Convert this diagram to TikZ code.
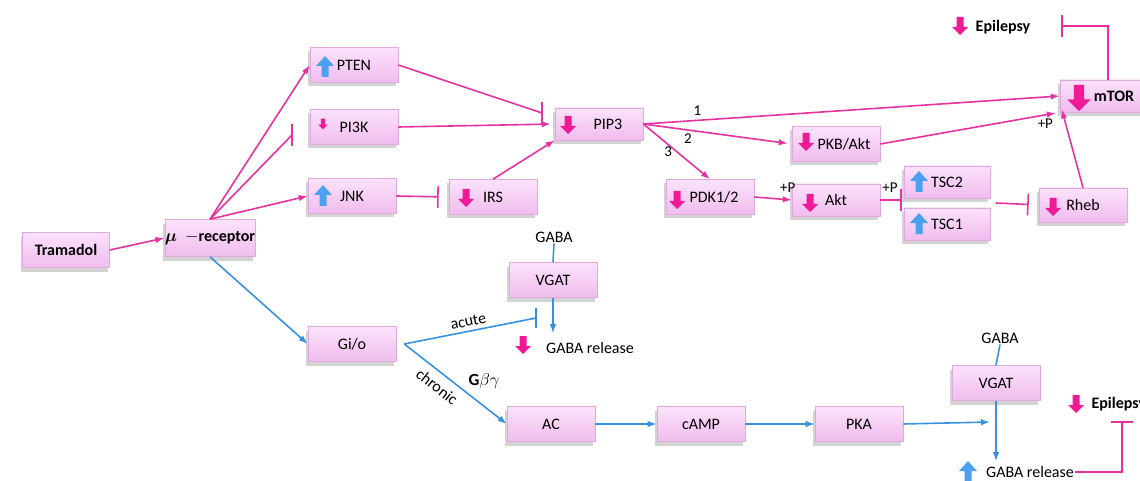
\documentclass[tikz,border=0pt]{standalone}
\usepackage{fontspec}
\setmainfont{Carlito}
\usepackage{amsmath}
\usetikzlibrary{arrows,arrows.meta,shadows,positioning}
\definecolor{pinkline}{RGB}{230,50,160}
\definecolor{blueline}{RGB}{55,145,225}
\definecolor{pinkicon}{RGB}{240,25,150}
\definecolor{blueicon}{RGB}{75,160,240}
\definecolor{boxtop}{RGB}{252,226,250}
\definecolor{boxbot}{RGB}{240,188,238}
\definecolor{boxedge}{RGB}{225,170,222}

\begin{document}
\begin{tikzpicture}[>={Latex[length=9pt,width=6.5pt]}, x=1pt, y=-1pt, font=\fontsize{16}{18}\selectfont]
      \tikzset{
	  box/.style={rectangle, draw=boxedge, line width=0.6pt, top color=boxtop, bottom color=boxbot, minimum width=88pt, minimum height=35pt, inner sep=0pt, drop shadow={shadow xshift=-2pt, shadow yshift=-4pt, opacity=0.35}},
	  act/.style={pinkline, line width=1.6pt, ->},
	  inh/.style={pinkline, line width=1.6pt, -{Bar[width=22pt]}},
	  pline/.style={pinkline, line width=1.6pt},
	  bact/.style={blueline, line width=1.6pt, ->},
	  bline/.style={blueline, line width=1.6pt},
	  lbl/.style={text=black, inner sep=1pt},
	  small/.style={text=black, font=\fontsize{15}{17}\selectfont, inner sep=1pt},
	  down icon/.pic={\fill[pinkicon] (-3.5,-9) -- (3.5,-9) -- (3.5,1) -- (8,1) -- (0,9) -- (-8,1) -- (-3.5,1) -- cycle;},
	  up icon/.pic={\fill[blueicon] (-3.5,10) -- (3.5,10) -- (3.5,-1) -- (9,-1) -- (0,-11) -- (-9,-1) -- (-3.5,-1) -- cycle;},
      }
      \useasboundingbox (0,0) rectangle (1140,481);

      % upper pathway
      \node (tram) at (66,250) [box, minimum width=87pt] {\textbf{Tramadol}};
      \node (mu) at (210,238) [box, minimum width=90pt, minimum height=37pt] {$\boldsymbol{\mu}$\; \textbf{$-$receptor}};
      \node (pten) at (354,65) [box] {PTEN};
      \node (pi3k) at (354,127) [box] {PI3K};
      \node (jnk) at (352,196) [box] {JNK};
      \node (irs) at (493,197) [box] {IRS};
      \node (pip3) at (599,124) [box, minimum height=32pt] {\hspace*{18pt}PIP3};
      \node (pkb) at (836,144) [box] {\hspace*{16pt}PKB/Akt};
      \node (pdk) at (710,197) [box] {\hspace*{8pt}PDK1/2};
      \node (akt) at (836,200) [box, minimum height=32pt] {Akt};
      \node (tsc2) at (947,182) [box, minimum width=86pt, minimum height=32pt] {TSC2};
      \node (tsc1) at (947,224) [box, minimum width=86pt, minimum height=32pt] {TSC1};
      \node (rheb) at (1083,205) [box, minimum height=34pt] {Rheb};
      \node (mtor) at (1104,96) [box, minimum height=32pt] {\hspace*{20pt}\textbf{mTOR}};
      \node (epi) at (1003,27) {\textbf{Epilepsy}};

      \pic at (325,67) {up icon};
      \pic at (323,124) [scale=0.6] {down icon};
      \pic at (323,196) {up icon};
      \pic at (466,198) {down icon};
      \pic at (568,125) {down icon};
      \pic at (806,142) {down icon};
      \pic at (677,200) {down icon};
      \pic at (810,203) {down icon};
      \pic at (919,182) {up icon};
      \pic at (919,224) {up icon};
      \pic at (1053,207) {down icon};
      \pic at (1079,98) [scale=1.45] {down icon};
      \pic at (960,26) {down icon};

      \coordinate (pi3kbar) at (292,135);
      \coordinate (pip3bar) at (542,113);
      \coordinate (tscbar) at (902,200);
      \coordinate (tscout) at (996,203);
      \coordinate (epibar) at (1061,26);

      \draw [act] (tram.east) -- (mu.west);
      \draw [act] (mu.north) -- (pten.west);
      \draw [pline] (mu.north) -- (pi3kbar);
      \draw [pline] ([yshift=-11]pi3kbar) -- ([yshift=11]pi3kbar);
      \draw [act] (mu.north) -- (jnk.west);
      \draw [pline] (pten.east) -- (pip3bar);
      \draw [pline] ([yshift=-11]pip3bar) -- ([yshift=11]pip3bar);
      \draw [act, shorten >=4pt] (pi3k.east) -- (pip3.west);
      \draw [inh, shorten >=10pt] (jnk.east) -- (irs.west);
      \draw [act] (irs.north) -- (pip3.south west);
      \draw [act] (pip3.east) -- (mtor.west) node [small, pos=0.13, above=3pt] {1};
      \draw [act, shorten >=4pt] (pip3.east) -- (pkb.west) node [small, pos=0.3, below=2pt] {2};
      \draw [act] (pip3.east) -- (pdk.north) node [small, pos=0.5, left=3pt] {3};
      \draw [act, shorten >=4pt] (pkb.east) -- (mtor.south west) node [small, pos=0.92, below=2pt] {+P};
      \draw [act] (pdk.east) -- (akt.west) node [small, pos=1, above=6pt, xshift=-4pt] {+P};
      \draw [inh] (akt.east) -- (tscbar) node [small, pos=0.45, above=6pt] {+P};
      \draw [inh, shorten >=10pt] (tscout) -- (rheb.west);
      \draw [act] (rheb.north) -- ([xshift=2pt,yshift=3pt]mtor.south west);
      \draw [inh] ([xshift=4pt]mtor.north) |- (epibar);

      % lower pathway
      \node (gio) at (352,344) [box] {Gi/o};
      \node (gaba1) at (554,237) [lbl] {GABA};
      \node (vgat1) at (553,280) [box] {VGAT};
      \node (rel1) at (590,348) [lbl] {GABA release};
      \node (ac) at (551,424) [box] {AC};
      \node (camp) at (701,424) [box] {cAMP};
      \node (pka) at (859,424) [box] {PKA};
      \node (gaba2) at (1000,338) [lbl] {GABA};
      \node (vgat2) at (996,383) [box] {VGAT};
      \node (rel2) at (1030,472) [lbl] {GABA release};
      \node (epi2) at (1088,404) [anchor=west] {\textbf{Epilepsy}};

      \pic at (523,345) {down icon};
      \pic at (968,472) {up icon};
      \pic at (1076,404) {down icon};

      \coordinate (acutebar) at (536,318);
      \coordinate (vgatin) at (990,422);
      \coordinate (epibar2) at (1122,421);

      \draw [bact] (mu.south) -- (gio.west);
      \draw [bline] ([xshift=8pt]gio.east) -- (acutebar) node [lbl, midway, above=3pt, sloped] {acute};
      \draw [bline] ([yshift=-10]acutebar) -- ([yshift=10]acutebar);
      \draw [bact] ([xshift=8pt]gio.east) -- (ac.west) node [lbl, pos=0.4, below=6pt, sloped] {chronic}
	node [lbl, pos=0.78, above=16pt, font=\fontsize{17}{19}\selectfont] {$\mathbf{G}\beta\gamma$};
      \draw [bline] (gaba1.south) -- (vgat1.north);
      \draw [bact, shorten >=8pt] (vgat1.south) -- (vgat1.south |- rel1.north);
      \draw [bact] (ac.east) -- (camp.west);
      \draw [bact] (camp.east) -- (pka.west);
      \draw [bact] (pka.east) -- (vgatin);
      \draw [bline] (gaba2.south) -- (vgat2.north);
      \draw [bact, shorten >=4pt] (vgat2.south) -- (vgat2.south |- rel2.north);
      \draw [inh] (rel2.east) -| (epibar2);
    \end{tikzpicture}
\end{document}
